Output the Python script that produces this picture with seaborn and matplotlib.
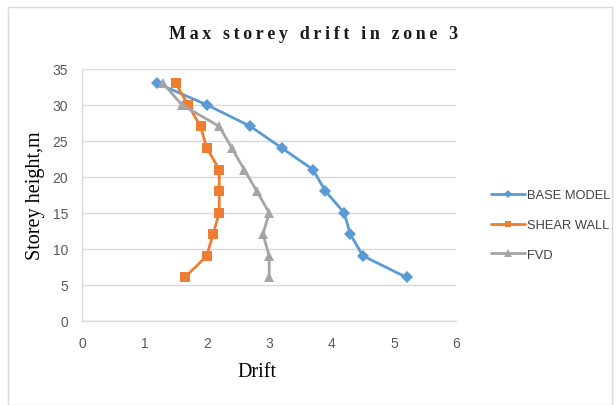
import matplotlib
matplotlib.use("Agg")
import matplotlib.pyplot as plt
import seaborn as sns
import pandas as pd
from matplotlib.patches import Rectangle

# Storey heights (m) and maximum drift for each model
storey_height = [33, 30, 27, 24, 21, 18, 15, 12, 9, 6]
base_model = [1.2, 2.0, 2.7, 3.2, 3.7, 3.9, 4.2, 4.3, 4.5, 5.2]
shear_wall = [1.5, 1.7, 1.9, 2.0, 2.2, 2.2, 2.2, 2.1, 2.0, 1.65]
fvd = [1.3, 1.6, 2.2, 2.4, 2.6, 2.8, 3.0, 2.9, 3.0, 3.0]

series_names = ["BASE MODEL", "SHEAR WALL", "FVD"]
x_ticks = [0, 1, 2, 3, 4, 5, 6]
y_ticks = [0, 5, 10, 15, 20, 25, 30, 35]

frames = []
for name, vals in zip(series_names, [base_model, shear_wall, fvd]):
    frames.append(pd.DataFrame({"Drift": vals, "Height": storey_height, "Model": name}))
df = pd.concat(frames, ignore_index=True)

sns.set_theme(style="white")
plt.rcParams["font.family"] = ["Liberation Sans", "DejaVu Sans"]

fig = plt.figure(figsize=(6.16, 4.06), dpi=100)
ax = fig.add_axes([0.133, 0.208, 0.608, 0.62])

palette = {"BASE MODEL": "#5B9BD5", "SHEAR WALL": "#ED7D31", "FVD": "#A5A5A5"}
markers = {"BASE MODEL": "D", "SHEAR WALL": "s", "FVD": "^"}
sizes = {"BASE MODEL": 6, "SHEAR WALL": 7, "FVD": 7.5}

for name in series_names:
    sub = df[df["Model"] == name]
    sns.lineplot(data=sub, x="Drift", y="Height", ax=ax, sort=False,
                 color=palette[name], marker=markers[name], markersize=sizes[name],
                 markeredgewidth=0, linewidth=2, label=name, estimator=None)

ax.set_xlim(0, 6)
ax.set_ylim(0, 35)
ax.set_xticks(x_ticks)
ax.set_yticks(y_ticks)
ax.yaxis.grid(True, color="#D9D9D9", linewidth=1)
ax.xaxis.grid(False)
for side in ["top", "right"]:
    ax.spines[side].set_visible(False)
for side in ["left", "bottom"]:
    ax.spines[side].set_color("#D9D9D9")
    ax.spines[side].set_linewidth(1)
ax.tick_params(axis="x", labelsize=10, colors="#595959", length=0, pad=11)
ax.tick_params(axis="y", labelsize=10, colors="#595959", length=0, pad=10)

ax.set_xlabel("Drift", fontfamily="Liberation Serif", fontsize=14.5, color="black", va="center")
ax.xaxis.set_label_coords(0.467, -0.202)
ax.set_ylabel("Storey height,m", fontfamily="Liberation Serif", fontsize=14.5, color="black", va="center")
ax.yaxis.set_label_coords(-0.125, 0.5)

title = "Max storey drift in zone 3"
spaced = "\u2009".join(" " if ch == " " else ch for ch in title)
fig.text(0.509, 0.914, spaced, ha="center", va="center", fontfamily="Liberation Serif",
         fontweight="bold", fontsize=13, color="#1a1a1a")

leg = ax.legend(loc="center left", bbox_to_anchor=(1.06, 0.379), frameon=False,
                fontsize=9.3, handlelength=2.7, labelspacing=1.37, handletextpad=0.1,
                markerscale=0.7)
for t in leg.get_texts():
    t.set_color("#404040")

fig.patches.append(Rectangle((0.013, 0.0), 0.98, 0.98, transform=fig.transFigure,
                             fill=False, edgecolor="#D9D9D9", linewidth=1))

fig.savefig("out.png", dpi=100)
